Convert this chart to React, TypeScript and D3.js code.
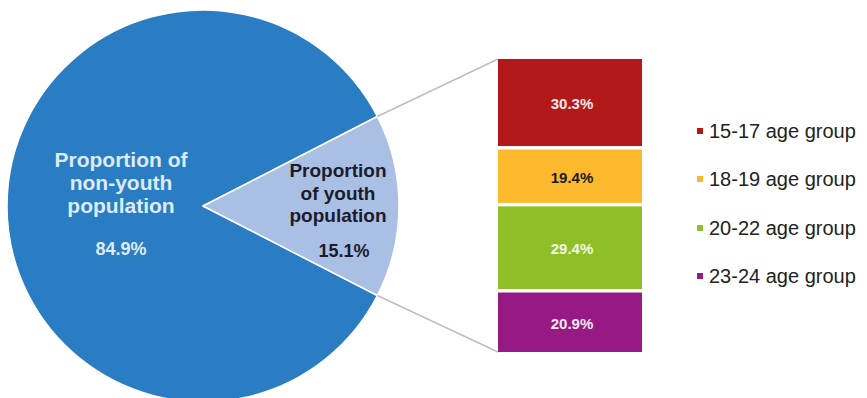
import React from "react";
import * as d3 from "d3";

const pieCategories = ["non-youth", "youth"];
const pieValues = [84.9, 15.1];
const pieLabelLines = [
  ["Proportion of", "non-youth", "population"],
  ["Proportion", "of youth", "population"],
];
const pieValueLabels = ["84.9%", "15.1%"];

const ageGroups = ["15-17 age group", "18-19 age group", "20-22 age group", "23-24 age group"];
const ageValues = [30.3, 19.4, 29.4, 20.9];
const ageValueLabels = ["30.3%", "19.4%", "29.4%", "20.9%"];

const W = 867;
const H = 398;
const FONT = "'Liberation Sans', Arial, Helvetica, sans-serif";

export default function App() {
  const cx = 203;
  const cy = 206;
  const r = 196;
  const pieColors = ["#2A7DC2", "#A9BFE3"];
  const ageColors = ["#B3191B", "#FDB92E", "#8EBF26", "#971A84"];
  const ageTextColors = ["#F8E8E8", "#1A1A1A", "#F2F7E6", "#F6E8F4"];

  const total = d3.sum(pieValues);
  const half = (pieValues[1] / total) * Math.PI;
  const pie = d3
    .pie<number>()
    .sort(null)
    .startAngle(Math.PI / 2 + half)
    .endAngle(Math.PI / 2 + half + 2 * Math.PI);
  const arcs = pie(pieValues);
  const arcGen = d3.arc<d3.PieArcDatum<number>>().innerRadius(0).outerRadius(r);

  const youth = arcs[1];
  const pt = (a: number) => [cx + r * Math.sin(a), cy - r * Math.cos(a)];
  const pTop = pt(youth.startAngle);
  const pBot = pt(youth.endAngle);

  const barX = 498;
  const barW = 144;
  const y = d3.scaleLinear().domain([0, d3.sum(ageValues)]).range([59, 352]);
  const cum = d3.cumsum([0, ...ageValues]);
  const gap = 3.5;

  const leftLabel = { x: 121, ys: [167, 190, 213], vx: 121, vy: 255 };
  const rightLabel = { x: 338, ys: [177, 200, 222], vx: 344, vy: 257 };
  const labelPos = [leftLabel, rightLabel];
  const labelColors = ["#DDEBF7", "#1B1B2C"];
  const labelSizes = [21, 19];

  const legendYs = [131, 179, 228, 276];

  return (
    <svg
      width={W}
      height={H}
      style={{ position: "absolute", left: 0, top: 0, background: "#fff" }}
      fontFamily={FONT}
    >
      <g transform={`translate(${cx},${cy})`}>
        {arcs.map((a, i) => (
          <path key={pieCategories[i]} d={arcGen(a) || ""} fill={pieColors[i]} stroke="#fff" strokeWidth={1.5} strokeLinejoin="round" />
        ))}
      </g>
      <line x1={pTop[0]} y1={pTop[1]} x2={barX} y2={y(0)} stroke="#BDBDBD" strokeWidth={1.5} />
      <line x1={pBot[0]} y1={pBot[1]} x2={barX} y2={y(cum[cum.length - 1])} stroke="#BDBDBD" strokeWidth={1.5} />
      {labelPos.map((lp, i) => (
        <g key={i} fill={labelColors[i]} fontWeight="bold" textAnchor="middle">
          {pieLabelLines[i].map((line, j) => (
            <text key={j} x={lp.x} y={lp.ys[j]} fontSize={labelSizes[i]}>
              {line}
            </text>
          ))}
          <text x={lp.vx} y={lp.vy} fontSize={18}>
            {pieValueLabels[i]}
          </text>
        </g>
      ))}
      {ageValues.map((v, i) => {
        const y0 = y(cum[i]) + (i > 0 ? gap / 2 : 0);
        const y1 = y(cum[i + 1]) - (i < ageValues.length - 1 ? gap / 2 : 0);
        return (
          <g key={ageGroups[i]}>
            <rect x={barX} y={y0} width={barW} height={y1 - y0} fill={ageColors[i]} />
            <text
              x={barX + barW / 2 + 2}
              y={(y0 + y1) / 2 + 1}
              dominantBaseline="central"
              textAnchor="middle"
              fontWeight="bold"
              fontSize={15}
              fill={ageTextColors[i]}
            >
              {ageValueLabels[i]}
            </text>
          </g>
        );
      })}
      {ageGroups.map((g, i) => (
        <g key={g}>
          <rect x={697} y={legendYs[i] - 3} width={6} height={6} fill={ageColors[i]} />
          <text x={709} y={legendYs[i]} dominantBaseline="central" fontSize={20} fill="#222">
            {g}
          </text>
        </g>
      ))}
    </svg>
  );
}
